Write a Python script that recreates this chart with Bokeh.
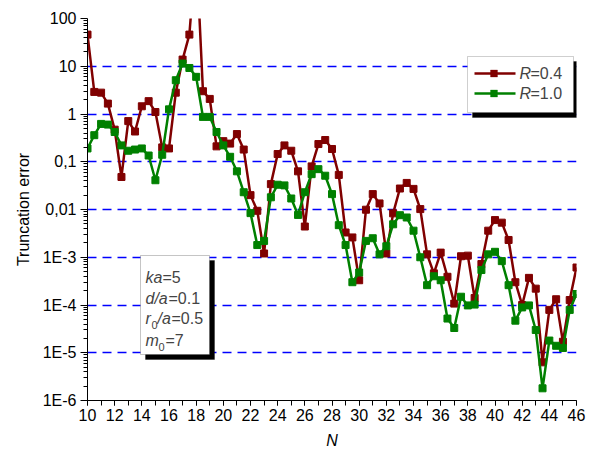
from bokeh.plotting import figure
from bokeh.models import FixedTicker, CustomJSTickFormatter, Label, BoxAnnotation
from bokeh.embed import file_html
from bokeh.resources import INLINE

# ---------------- data ----------------
n_vals = [10, 10.5, 11, 11.5, 12, 12.5, 13, 13.5, 14, 14.5, 15, 15.5, 16, 16.5,
          17, 17.5, 18, 18.5, 19, 19.5, 20, 20.5, 21, 21.5, 22, 22.5, 23, 23.5,
          24, 24.5, 25, 25.5, 26, 26.5, 27, 27.5, 28, 28.5, 29, 29.5, 30, 30.5,
          31, 31.5, 32, 32.5, 33, 33.5, 34, 34.5, 35, 35.5, 36, 36.5, 37, 37.5,
          38, 38.5, 39, 39.5, 40, 40.5, 41, 41.5, 42, 42.5, 43, 43.5, 44, 44.5,
          45, 45.5, 46]

err_r04 = [46, 2.9, 2.8, 1.65, 0.47, 0.048, 0.71, 0.43, 1.45, 1.86, 1.1, 0.2, 0.19,
           2.8, 13.8, 46, 3000, 3.0, 2.07,
           0.21, 0.27, 0.24, 0.38, 0.18, 0.02, 0.0094, 0.0012, 0.034, 0.145, 0.22,
           0.17, 0.063, 0.0044, 0.08, 0.235, 0.285, 0.185, 0.053, 0.0033,
           0.0026, 0.00033, 0.0099, 0.021, 0.0134, 0.0012, 0.0083,
           0.0275, 0.036, 0.027, 0.0102, 0.00115, 0.00046, 0.00125, 0.00039, 0.000107,
           0.00105, 0.00108, 0.00014, 0.00072, 0.0036, 0.006, 0.0053, 0.0023, 0.0003,
           0.0001, 0.00037, 0.00022, 6.3e-6, 7.9e-5, 0.000132, 1.7e-5, 0.000127, 0.00061]

err_r10 = [0.19, 0.36, 0.62, 0.6, 0.42, 0.22, 0.17, 0.18, 0.19, 0.135, 0.041, 0.14,
           1.25, 5.1, 11.4, 9.2, 6.0, 0.87, 0.87,
           0.42, 0.22, 0.127, 0.063, 0.023, 0.0084, 0.0018, 0.0022, 0.018, 0.033,
           0.032, 0.017, 0.0077, 0.023, 0.055, 0.07, 0.051, 0.021, 0.0047, 0.0018,
           0.0003, 0.00048, 0.0022, 0.0025, 0.00115, 0.0017, 0.0049,
           0.0076, 0.0068, 0.0036, 0.001, 0.00026, 0.0004, 0.00033, 5.2e-5, 3.3e-5,
           0.000149, 9.8e-5, 0.000102, 0.00054, 0.00115, 0.0013, 0.00083, 0.00026,
           4.7e-5, 8.9e-5, 9.8e-5, 3.0e-5, 1.8e-6, 1.8e-5, 1.4e-5, 1.26e-5, 7.9e-5, 0.00017]

series_names = ["0.4", "1.0"]

x_major = [10, 12, 14, 16, 18, 20, 22, 24, 26, 28, 30, 32, 34, 36, 38, 40, 42, 44, 46]
x_minor = list(range(10, 47))
y_major = [1e-6, 1e-5, 1e-4, 1e-3, 1e-2, 1e-1, 1, 10, 100]
y_grid = [1e-5, 1e-4, 1e-3, 1e-2, 1e-1, 1, 10]
y_minor = [k * 10.0 ** e for e in range(-6, 2) for k in range(2, 10)]

FONT = "Liberation Sans"
RED = "#800000"
GREEN = "#008000"

p = figure(width=595, height=457, x_range=(10, 46), y_range=(1e-6, 100),
           y_axis_type="log", output_backend="svg", toolbar_location=None,
           min_border_left=87, min_border_right=19, min_border_top=18,
           min_border_bottom=57)
p.outline_line_color = None
p.background_fill_color = "white"
p.border_fill_color = "white"

# grids
p.xgrid.visible = False
p.ygrid.ticker = FixedTicker(ticks=y_grid)
p.ygrid.grid_line_color = "#0000ff"
p.ygrid.grid_line_dash = "9 6"
p.ygrid.grid_line_width = 1.5
p.ygrid.minor_grid_line_color = None

# axes
xa = p.xaxis[0]
xa.ticker = FixedTicker(ticks=x_major, minor_ticks=x_minor)
xa.major_tick_in = 0
xa.major_tick_out = 5
xa.minor_tick_in = 0
xa.minor_tick_out = 5
xa.axis_label = "N"
xa.axis_label_text_font_style = "italic"
ya = p.yaxis[0]
ya.ticker = FixedTicker(ticks=y_major, minor_ticks=y_minor)
ya.major_tick_in = 0
ya.major_tick_out = 7
ya.minor_tick_in = 0
ya.minor_tick_out = 4
ya.axis_label = "Truncation error"
ya.axis_label_text_font_style = "normal"
ya.formatter = CustomJSTickFormatter(code="""
const e = Math.round(Math.log10(tick));
const m = {"2": "100", "1": "10", "0": "1", "-1": "0,1", "-2": "0,01"};
const k = String(e);
return (k in m) ? m[k] : "1E" + e;
""")
for ax in (xa, ya):
    ax.axis_line_color = "black"
    ax.axis_line_width = 1
    ax.major_tick_line_color = "black"
    ax.minor_tick_line_color = "black"
    ax.major_label_text_font = FONT
    ax.major_label_text_font_size = "16px"
    ax.major_label_text_color = "black"
    ax.axis_label_text_font = FONT
    ax.axis_label_text_font_size = "16px"
    ax.axis_label_text_color = "black"
xa.major_label_standoff = 3
ya.major_label_standoff = 4
xa.axis_label_standoff = 8
ya.axis_label_standoff = 8

# series
p.line(n_vals, err_r04, line_color=RED, line_width=2.5)
p.scatter(n_vals, err_r04, marker="square", size=7, fill_color=RED, line_color=RED)
p.line(n_vals, err_r10, line_color=GREEN, line_width=2.5)
p.scatter(n_vals, err_r10, marker="square", size=7, fill_color=GREEN, line_color=GREEN)

def sbox(l, r, t, b, fill, line=None, lw=1):
    p.add_layout(BoxAnnotation(left=l, right=r, top=t, bottom=b,
                               left_units="screen", right_units="screen",
                               top_units="screen", bottom_units="screen",
                               fill_color=fill, fill_alpha=1, line_color=line,
                               line_width=lw))

def run(x, y, text, italic=False, size="16px", baseline="alphabetic"):
    p.add_layout(Label(x=x, y=y, x_units="screen", y_units="screen", text=text,
                       text_font=FONT, text_font_size=size,
                       text_font_style="italic" if italic else "normal",
                       text_baseline=baseline, level="overlay"))

# legend (drawn as annotations in screen units)
sbox(385, 491, 339, 283, "black", "black")
sbox(380, 486, 344, 288, "white", "#606060")
for yc, col, name in ((327, RED, series_names[0]), (307, GREEN, series_names[1])):
    sbox(387, 428, yc + 1.25, yc - 1.25, col)
    sbox(403, 410, yc + 3.5, yc - 3.5, col, col)
    run(432, yc, "R", True, baseline="middle")
    run(443, yc, "=" + name, baseline="middle")

# parameter box
sbox(58, 127, 140, 41, "black", "black")
sbox(53, 122, 145, 46, "white", "#404040")

run(58, 123, "ka", True)
run(75, 123, "=5")
run(58, 102, "d/a", True)
run(81, 102, "=0.1")
run(58, 82, "r", True)
run(64, 76, "0", size="11px")
run(70, 82, "/a", True)
run(84, 82, "=0.5")
run(58, 60, "m", True)
run(71, 54, "0", size="11px")
run(78, 60, "=7")

open("out.html", "w").write(file_html(p, INLINE))
